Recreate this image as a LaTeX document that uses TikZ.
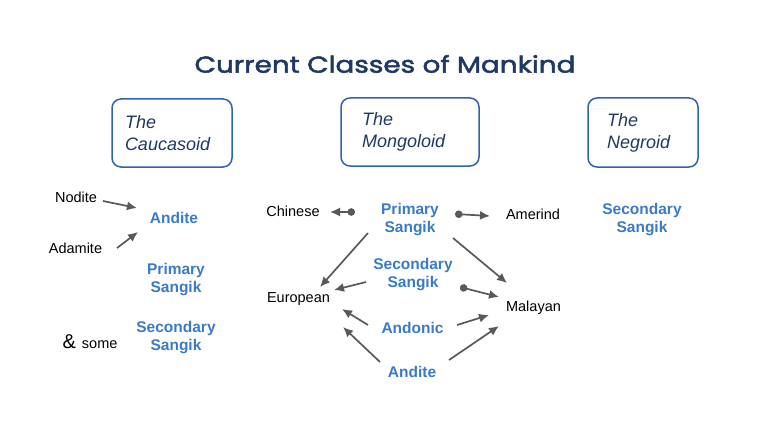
\documentclass[tikz,border=0pt]{standalone}
\usepackage{fontspec}
\setmainfont{Liberation Sans}
\newfontfamily\titlefont{Poppins}[FakeStretch=1.21,FakeBold=2.2]
\usetikzlibrary{positioning}
\usetikzlibrary{arrows.meta}
\definecolor{navy}{HTML}{1F3864}
\definecolor{boxblue}{HTML}{2F64A8}
\definecolor{lblblue}{HTML}{3A7BC8}
\definecolor{arrgray}{HTML}{595959}

\begin{document}
\begin{tikzpicture}[x=1pt,y=-1pt,
  clsbox/.style={draw=boxblue,line width=1.5pt,rounded corners=9pt,fill=white,align=left,text=navy,font=\fontsize{18}{22}\selectfont\itshape,inner ysep=0pt},
  race/.style={inner sep=0pt,anchor=base,font=\fontsize{14.5}{17}\selectfont},
  sangik/.style={inner sep=0pt,align=center,text=lblblue,font=\fontsize{15.5}{18}\selectfont\bfseries},
  link/.style={draw=arrgray,line width=1.7pt,-{Latex[length=10pt,width=9pt]}},
  dotlink/.style={link,{Circle[length=7.5pt]}-{Latex[length=10pt,width=9pt]}}]
\fill[white] (0,0) rectangle (770,433);
\node[font=\titlefont\fontsize{23}{23}\selectfont,text=navy] (title) at (385,64) {Current Classes of Mankind};

\node[clsbox,minimum width=120,minimum height=68,inner xsep=13pt,text width=94pt] (cauc) at (172,133) {The\\Caucasoid};
\node[clsbox,minimum width=138,minimum height=68,inner xsep=21pt,text width=96pt] (mong) at (410,132) {The\\Mongoloid};
\node[clsbox,minimum width=110,minimum height=69,inner xsep=19pt,text width=72pt] (negr) at (643,132.5) {The\\Negroid};

% the caucasoid
\node[race] (nodite) at (76,202) {Nodite};
\node[race] (adamite) at (75.5,253) {Adamite};
\node[sangik,anchor=base] (andite1) at (174,223) {Andite};
\node[sangik] (prim1) at (176,280) {Primary\\Sangik};
\node[race] (some) at (90,348) {{\fontsize{20}{20}\selectfont\&}\hspace{6pt}some};
\node[sangik] (sec1) at (176,338) {Secondary\\Sangik};
\draw[link] ([shift={(27,-1)}]nodite.base) -- ([shift={(-37,-15)}]andite1.base);
\draw[link] ([shift={(41.5,-5)}]adamite.base) -- ([shift={(-36,9)}]andite1.base);

% the mongoloid
\node[race] (chinese) at (293,216) {Chinese};
\node[sangik] (prim2) at (410,220) {Primary\\Sangik};
\node[race] (amerind) at (533,219.5) {Amerind};
\node[sangik] (sec2) at (413,275) {Secondary\\Sangik};
\node[race] (european) at (298.5,302.7) {European};
\node[race] (malayan) at (533.5,311) {Malayan};
\node[sangik,anchor=base] (andonic) at (412.5,333) {Andonic};
\node[sangik,anchor=base] (andite2) at (412,377.5) {Andite};

\draw[dotlink] ([shift={(-55,-8)}]prim2.center) -- ([shift={(37,-4)}]chinese.base);
\draw[dotlink] ([shift={(45,-6)}]prim2.center) -- ([shift={(-43,-3.5)}]amerind.base);
\draw[link] ([shift={(-42,13)}]prim2.center) -- ([shift={(21.5,-15.7)}]european.base);
\draw[link] ([shift={(43,18)}]prim2.center) -- ([shift={(-26.5,-28)}]malayan.base);
\draw[link] ([shift={(-47,7)}]sec2.center) -- ([shift={(35.5,-12.7)}]european.base);
\draw[dotlink] ([shift={(47,12)}]sec2.center) -- ([shift={(-34.5,-14)}]malayan.base);
\draw[link] ([shift={(-44.5,-8)}]andonic.base) -- ([shift={(43.5,6.3)}]european.base);
\draw[link] ([shift={(44.5,-8)}]andonic.base) -- ([shift={(-44.5,4)}]malayan.base);
\draw[link] ([shift={(-32,-15.5)}]andite2.base) -- ([shift={(44.5,24.3)}]european.base);
\draw[link] ([shift={(37,-17.5)}]andite2.base) -- ([shift={(-34.5,15)}]malayan.base);

% the negroid
\node[sangik] (sec3) at (642,219.5) {Secondary\\Sangik};
\end{tikzpicture}
\end{document}
